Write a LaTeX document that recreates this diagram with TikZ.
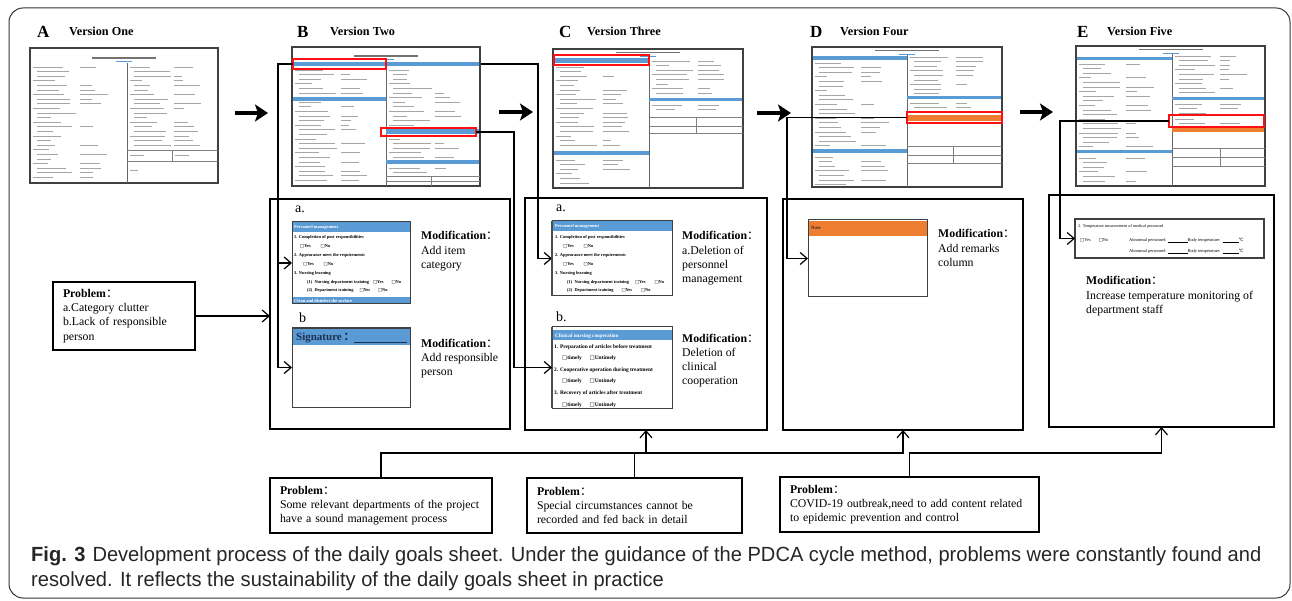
\documentclass[tikz,border=0pt]{standalone}
\usepackage{fontspec}
\setmainfont{Liberation Serif}
\newfontfamily\capfont[FakeStretch=0.98]{Liberation Sans}
\newfontfamily\cjkfont{Noto Sans CJK SC}
\newfontfamily\dvs{DejaVu Sans}
\usetikzlibrary{arrows.meta,calc}
\definecolor{hb}{HTML}{5B9BD5}
\definecolor{og}{HTML}{ED7D31}
\definecolor{navy}{HTML}{1F3050}
\definecolor{rd}{HTML}{FF1010}
\newcommand\fc{{\cjkfont ：}}
\newcommand\cb{{\dvs □}}
\newcommand\degc{{\dvs ℃}}
\pgfdeclarelayer{bg}
\pgfsetlayers{bg,main}
\newcommand\formrows[5]{%
  \pgfmathsetseed{#5}%
  \pgfmathtruncatemacro\nrw{((#4)-(#2))/4.6}%
  \foreach \k in {0,...,\nrw}{%
    \pgfmathsetmacro\yy{#2+\k*4.6}%
    \pgfmathsetmacro\ind{mod(\k,3)==0 ? 2.5 : 7}%
    \pgfmathsetmacro\la{((#3)-(#1))*(0.12+0.3*rnd)}%
    \draw[fl] ({#1+\ind},\yy) -- ++(\la,0);%
    \pgfmathsetmacro\rr{rnd}%
    \ifdim\rr pt>0.4pt
      \pgfmathsetmacro\lb{((#3)-(#1))*(0.08+0.22*rnd)}%
      \draw[fl] ({#1+0.52*((#3)-(#1))},\yy) -- ++(\lb,0);%
    \fi
  }%
}
\newcommand\thumbhead[6]{% x0 y0 x1 y1 xdiv titley
  \draw[line width=1.3pt, black!55] ({(#1+#3)/2-32},#6) -- ++(64,0);
  \draw[line width=0.7pt, hb] ({(#1+#3)/2-8},{#6+3.5}) -- ++(16,0);
  \draw[line width=0.6pt, black!60] (#5,{#6+5}) -- (#5,#4);
}
\begin{document}
\begin{tikzpicture}[x=1pt,y=-1pt,
  frame/.style={draw=black!80, line width=1pt, rounded corners=14pt},
  thumb/.style={draw=black!75, line width=1.5pt, fill=white, inner sep=0, outer sep=0, anchor=north west},
  box/.style={draw=black, line width=1.3pt, inner sep=0, outer sep=0, anchor=north west},
  form/.style={draw=black!75, line width=1pt, fill=white, inner sep=0, outer sep=0, anchor=north west},
  redbox/.style={draw=rd, line width=1.6pt, inner sep=0, outer sep=0, anchor=north west},
  fl/.style={line width=0.9pt, black!35},
  tl/.style={line width=0.5pt, black!50},
  conn/.style={line width=1.3pt},
  barb/.style={-{Straight Barb[length=7pt,width=12pt,line width=1.2pt]}},
  bigarrow/.style={line width=4pt,-{Stealth[length=13pt,width=17pt,inset=3pt]}},
  lt/.style={font=\fontsize{17}{17}\bfseries, inner sep=0, anchor=base west},
  vt/.style={font=\fontsize{12.2}{14}\bfseries, inner sep=0, anchor=base west},
  lab/.style={font=\fontsize{14}{14}\selectfont, inner sep=0, anchor=base west},
  body/.style={font=\fontsize{11.8}{14.3}\selectfont, inner sep=0, anchor=base west, align=left},
  tiny/.style={font=\fontsize{4.4}{8.85}\bfseries, inner sep=0, anchor=base west, align=left},
  tinyw/.style={font=\fontsize{4.4}{5}\bfseries, text=white, inner sep=0, anchor=base west},
  probbox/.style={draw=black, line width=1.1pt, inner xsep=10pt, inner ysep=0pt, align=left, anchor=north west, font=\fontsize{11.8}{14.3}\selectfont, outer sep=0},
  capn/.style={font=\capfont\fontsize{20.5}{22}\selectfont, text=black!85, inner sep=0, anchor=base west}
]
\useasboundingbox (0,0) rectangle (1292,601);
\draw[frame] (9,8) rectangle (1290,598);

% ---------- headings
\node[lt] (lA) at (37,38) {A};  \node[vt] (vA) at (69,36) {Version One};
\node[lt] (lB) at (297,38) {B}; \node[vt] (vB) at (330,36) {Version Two};
\node[lt] (lC) at (559,38) {C}; \node[vt] (vC) at (587,36) {Version Three};
\node[lt] (lD) at (810,38) {D}; \node[vt] (vD) at (840,36) {Version Four};
\node[lt] (lE) at (1077,38) {E}; \node[vt] (vE) at (1107,36) {Version Five};

% ---------- thumbnails
\node[thumb, minimum width=188, minimum height=135] (thA) at (30,48) {};
\thumbhead{30}{48}{218}{183}{127}{58}
\formrows{30}{67}{127}{182}{11}
\formrows{127}{67}{218}{146}{12}
\draw[tl] (127,150) -- (218,150) (127,161) -- (218,161) (172,150) -- (172,161);
\draw[fl] (130,155.5) -- ++(14,0) (175,155.5) -- ++(14,0) (130,170) -- ++(8,0);

\node[thumb, minimum width=188, minimum height=139] (thB) at (292,47) {};
\thumbhead{292}{47}{480}{186}{386}{56}
\formrows{292}{70}{386}{185}{21}
\formrows{386}{70}{480}{127}{22}
\formrows{386}{139}{480}{158}{23}
\formrows{386}{168}{480}{174}{24}
\draw[tl] (386,176) -- (480,176) (386,181) -- (480,181) (431,176) -- (431,186);
\fill[hb] (293,62.5) rectangle (479,66.5);
\fill[hb] (293,97) rectangle (386,101);
\fill[hb] (386,129.5) rectangle (479,134);
\fill[hb] (386,160) rectangle (479,164);

\node[thumb, minimum width=190, minimum height=139] (thC) at (553,49) {};
\thumbhead{553}{49}{743}{188}{649}{52.5}
\formrows{553}{67}{649}{149}{31}
\formrows{553}{160}{649}{186}{32}
\formrows{649}{61}{743}{96}{33}
\formrows{649}{105}{743}{114}{34}
\draw[tl] (649,117) -- (743,117) (649,126) -- (743,126) (649,133) -- (743,133) (696,117) -- (696,133);
\fill[hb] (554,58) rectangle (649,63);
\fill[hb] (554,151) rectangle (649,155);
\fill[hb] (649,98) rectangle (742,101.5);

\node[thumb, minimum width=190, minimum height=140] (thD) at (812,47) {};
\thumbhead{812}{47}{1002}{187}{907}{50.5}
\formrows{812}{63}{907}{147}{41}
\formrows{812}{157}{907}{186}{42}
\formrows{907}{57}{1002}{95}{43}
\formrows{907}{103}{1002}{112}{44}
\draw[tl] (907,146) -- (1002,146) (907,155) -- (1002,155) (907,163) -- (1002,163) (953,146) -- (953,163);
\fill[hb] (813,56) rectangle (907,60);
\fill[hb] (813,149.5) rectangle (907,153);
\fill[hb] (907,96) rectangle (1001,99.5);
\fill[og] (907,115) rectangle (1001,121);

\node[thumb, minimum width=189, minimum height=140] (thE) at (1076,46) {};
\thumbhead{1076}{46}{1265}{186}{1172}{49.5}
\formrows{1076}{64}{1172}{148}{51}
\formrows{1076}{158}{1172}{185}{52}
\formrows{1172}{56}{1265}{96}{53}
\formrows{1172}{104}{1265}{114}{54}
\formrows{1172}{119}{1265}{126}{55}
\draw[tl] (1172,148) -- (1265,148) (1172,157) -- (1265,157) (1172,166) -- (1265,166) (1220,148) -- (1220,166);
\fill[hb] (1077,57) rectangle (1172,60.5);
\fill[hb] (1077,150) rectangle (1172,153.5);
\fill[hb] (1172,97) rectangle (1264,100.5);
\fill[og] (1172,128) rectangle (1264,132);

% red highlight rectangles
\node[redbox, minimum width=93, minimum height=10] (rB1) at (293,59) {};
\node[redbox, minimum width=95, minimum height=8] (rB2) at (381,128) {};
\node[redbox, minimum width=95, minimum height=10] (rC) at (554,55) {};
\node[redbox, minimum width=95, minimum height=11] (rD) at (907,112) {};
\node[redbox, minimum width=95, minimum height=12] (rE) at (1169,115) {};

% big arrows between versions
\draw[bigarrow] ($(thA.east)+(17,-2.5)$) -- ($(thA.east)+(50,-2.5)$);
\draw[bigarrow] ($(thB.east)+(19,-4.5)$) -- ($(thB.east)+(53,-4.5)$);
\draw[bigarrow] ($(thC.east)+(14,-5.5)$) -- ($(thC.east)+(48,-5.5)$);
\draw[bigarrow] ($(thD.east)+(18,-5)$) -- ($(thD.east)+(51,-5)$);

% ---------- modification boxes
\node[box, minimum width=240, minimum height=230] (boxB) at (270,199) {};
\node[box, minimum width=242, minimum height=232] (boxC) at (525,198) {};
\node[box, minimum width=240, minimum height=231] (boxD) at (783,199) {};
\node[box, minimum width=225, minimum height=232] (boxE) at (1049,195) {};

% ---- panel B a
\node[lab] (laBa) at (295,213) {a.};
\node[form, minimum width=118, minimum height=82] (pBa) at (292,222) {};
\fill[hb] (292,222) rectangle (410,232);
\fill[hb] (292,297) rectangle (410,304);
\draw[line width=1pt, black!75] (pBa.north west) rectangle (pBa.south east);
\node[tinyw] (hBa) at (294,229) {Personnel management};
\node[tiny] (tBa) at (294,292) {1. Completion of post responsibilities\\
\hspace*{6pt}\cb Yes\hspace{10pt}\cb No\\
2. Appearance meet the requirements\\
\hspace*{9pt}\cb Yes\hspace{10pt}\cb No\\
3. Nursing learning\\
\hspace*{13pt}(1)\ \ Nursing department training\hspace{4pt}\cb Yes\hspace{8pt}\cb No\\
\hspace*{13pt}(2)\ \ Department training\hspace{6pt}\cb Yes\hspace{8pt}\cb No};
\node[tinyw] (fBa) at (294,302.3) {Clean and disinfect the surface};
\node[body] (mBa) at (421,268.6) {\textbf{Modification}\fc\\Add item\\category};

% ---- panel B b
\node[lab] (laBb) at (299,323) {b};
\node[form, minimum width=118, minimum height=79] (pBb) at (292,328) {};
\fill[hb] (292,328) rectangle (410,345);
\draw[line width=1pt, black!75] (pBb.north west) rectangle (pBb.south east);
\node[font=\fontsize{11}{11}\bfseries, text=navy, inner sep=0, anchor=base west] (sBb) at (296,340.5) {Signature\,\fc};
\draw[navy, line width=0.9pt] (354,342) -- (407,342);
\node[body] (mBb) at (421,375.6) {\textbf{Modification}\fc\\Add responsible\\person};

% ---- panel C a
\node[lab] (laCa) at (556,212) {a.};
\node[form, minimum width=120, minimum height=75] (pCa) at (552,221) {};
\fill[hb] (552,221) rectangle (672,231);
\draw[line width=1pt, black!75] (pCa.north west) rectangle (pCa.south east);
\draw[line width=2.2pt, black!70] (pCa.north west) -- (pCa.south west);
\node[tinyw] (hCa) at (555,228) {Personnel management};
\node[tiny] (tCa) at (555,292) {1. Completion of post responsibilities\\
\hspace*{8pt}\cb Yes\hspace{10pt}\cb No\\
2. Appearance meet the requirements\\
\hspace*{8pt}\cb Yes\hspace{10pt}\cb No\\
3. Nursing learning\\
\hspace*{12pt}(1)\ \ Nursing department training\hspace{6pt}\cb Yes\hspace{9pt}\cb No\\
\hspace*{12pt}(2)\ \ Department training\hspace{8pt}\cb Yes\hspace{9pt}\cb No};
\node[body] (mCa) at (682,282.9) {\textbf{Modification}\fc\\a.Deletion of\\personnel\\management};

% ---- panel C b
\node[lab] (laCb) at (556,322) {b.};
\node[form, minimum width=120, minimum height=81] (pCb) at (552,327) {};
\fill[hb] (552,329.5) rectangle (672,340);
\draw[line width=1pt, black!75] (pCb.north west) rectangle (pCb.south east);
\draw[line width=2.2pt, black!70] (pCb.north west) -- (pCb.south west);
\node[tinyw, font=\fontsize{5.2}{6}\bfseries] (hCb) at (555,337.5) {Clinical nursing cooperation};
\node[tiny, font=\fontsize{5.4}{11.6}\bfseries] (tCb) at (554,406) {1. Preparation of articles before treatment\\
\hspace*{8pt}\cb timely\hspace{8pt}\cb Untimely\\
2. Cooperative operation during treatment\\
\hspace*{8pt}\cb timely\hspace{8pt}\cb Untimely\\
3. Recovery of articles after treatment\\
\hspace*{8pt}\cb timely\hspace{8pt}\cb Untimely};
\node[body] (mCb) at (682,384.9) {\textbf{Modification}\fc\\Deletion of\\clinical\\cooperation};

% ---- panel D
\node[form, minimum width=119, minimum height=77] (pD) at (808,220) {};
\fill[og] (808,221) rectangle (927,236);
\draw[line width=1pt, black!75] (pD.north west) rectangle (pD.south east);
\node[tiny, font=\fontsize{4.8}{5}\bfseries, text=black!80] (nD) at (811,230) {Note};
\node[body] (mD) at (938,266.6) {\textbf{Modification}\fc\\Add remarks\\column};

% ---- panel E
\node[form, line width=1.5pt, minimum width=189, minimum height=39] (pE) at (1075,219) {};
\node[tiny, font=\fontsize{4.2}{5}\selectfont] (tE1) at (1078,228) {2. Temperature measurement of medical personnel};
\node[tiny, font=\fontsize{4.4}{5}\selectfont] (tE2) at (1080,242) {\cb Yes\hspace{8pt}\cb No};
\node[tiny, font=\fontsize{4.4}{11}\selectfont] (tE3) at (1129,253) {Abnormal personnel:\ \rule{20pt}{0.3pt}Body temperature:\ \ \rule{16pt}{0.3pt}\degc\\Abnormal personnel:\ \rule{20pt}{0.3pt}Body temperature:\ \ \rule{16pt}{0.3pt}\degc};
\node[body] (mE) at (1086,313.6) {\textbf{Modification}\fc\\Increase temperature monitoring of\\department staff};

% ---------- problem boxes
\node[probbox, minimum width=142, minimum height=68, text width=122] (probA) at (53,282) {\textbf{Problem}\fc\\a.Category clutter\\b.Lack of responsible\\person};
\node[probbox, minimum width=222, minimum height=55, text width=202] (prob1) at (270,478) {\textbf{Problem}\fc\\Some relevant departments of the project\\have a sound management process};
\node[probbox, minimum width=215, minimum height=55, text width=195] (prob2) at (527,478) {\textbf{Problem}\fc\\Special circumstances cannot be\\recorded and fed back in detail};
\node[probbox, minimum width=259, minimum height=55, text width=239] (prob3) at (780,477) {\textbf{Problem}\fc\\COVID-19 outbreak,need to add content related\\to epidemic prevention and control};

% ---------- connectors
\coordinate (jB) at ($(rB1.west)+(-15,0)$);
\coordinate (jC) at ($(pCa.west)+(-14,0)$);
\coordinate (jB2) at ($(pCb.west)+(-38,0)$);
\coordinate (jD) at ($(pD.west)+(-21,0)$);
\coordinate (jE) at ($(pE.west)+(-15,0)$);
\coordinate (hb) at (0,453);
\begin{pgfonlayer}{bg}
\draw[conn,barb] (jB) -| (jC) -- (pCa.west);
\end{pgfonlayer}
\draw[conn,barb] (rB1.west) -- (jB) |- (pBb.west);
\draw[conn,barb] (jB |- pBa.west) -- (pBa.west);
\draw[conn,barb] (rB2.east) -| (jB2) -- (pCb.west);
\draw[conn,barb] (rD.west) -| (jD) -- (pD.west);
\draw[conn,barb] (rE.west) -| (jE) -- (pE.west);
\draw[conn,barb] (probA.east) -- (probA.east -| boxB.west);
\draw[conn,barb] (prob1.north) |- (hb -| boxC.south) -- (boxC.south);
\draw[conn,barb] (prob2.north) |- (hb -| boxD.south) -- (boxD.south);
\draw[conn,barb] (prob3.north) |- (hb -| boxE.south) -- (boxE.south);

% ---------- caption
\node[capn] (cap1) at (31,561) {\textbf{Fig. 3}\hspace{7pt}Development process of the daily goals sheet. Under the guidance of the PDCA cycle method, problems were constantly found and};
\node[capn] (cap2) at (31,586) {resolved. It reflects the sustainability of the daily goals sheet in practice};
\end{tikzpicture}
\end{document}
